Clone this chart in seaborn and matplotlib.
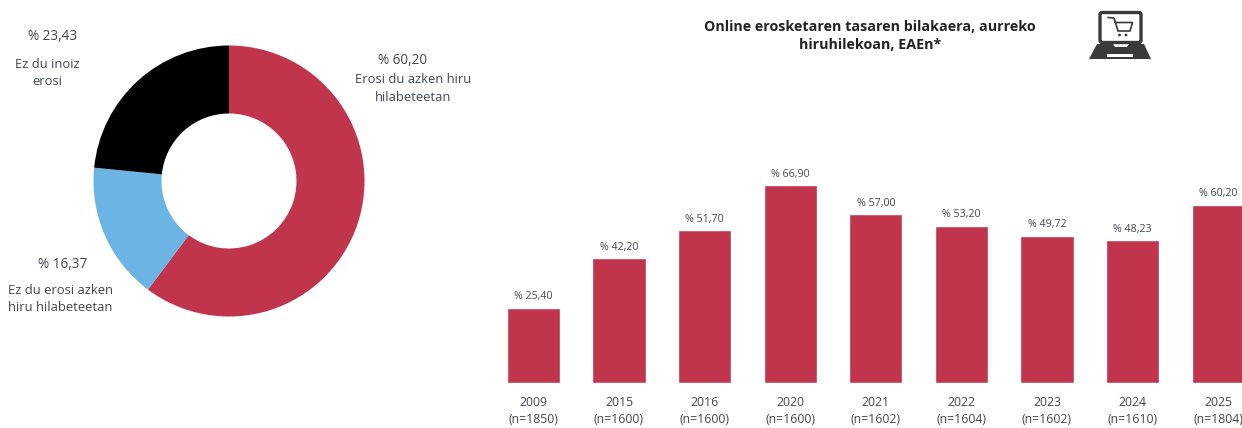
"""Online erosketak: donut and yearly bar chart."""

import matplotlib
matplotlib.use("Agg")
import matplotlib.pyplot as plt
import matplotlib.patches as mpatches
import pandas as pd
import seaborn as sns

# ---------- data ----------
donut_labels = ["Erosi du azken hiru\nhilabeteetan", "Ez du erosi azken\nhiru hilabeteetan", "Ez du inoiz\nerosi"]
donut_values = [60.20, 16.37, 23.43]

years = ["2009", "2015", "2016", "2020", "2021", "2022", "2023", "2024", "2025"]
sample_sizes = [1850, 1600, 1600, 1600, 1602, 1604, 1602, 1610, 1804]
rates = [25.40, 42.20, 51.70, 66.90, 57.00, 53.20, 49.72, 48.23, 60.20]

RED = "#C0354B"
BLUE = "#6CB4E4"
TEXT = "#404652"

W, H = 1242, 428


def pct(v):
    return "% " + f"{v:.2f}".replace(".", ",")


sns.set_theme(style="white")
plt.rcParams["font.family"] = ["Open Sans", "DejaVu Sans"]

fig = plt.figure(figsize=(W / 100, H / 100), dpi=100, facecolor="white")

# donut, y axis runs downwards here so the angles are flipped
ax_d = fig.add_axes([0, 0, 1, 1])
ax_d.pie(donut_values, colors=[RED, BLUE, "black"], startangle=-90, counterclock=True,
         center=(229, 181), radius=135.5, wedgeprops=dict(width=68, linewidth=0),
         frame=True)
ax_d.set_xlim(0, W)
ax_d.set_ylim(H, 0)
ax_d.axis("off")

donut_text = [(403, 60, 88.5), (63, 265, 299), (53, 37, 73)]
donut_label_x = [413, 60, 47]
for (x, y1, y2), x2, lab, v in zip(donut_text, donut_label_x, donut_labels, donut_values):
    fig.text(x / W, 1 - y1 / H, pct(v), ha="center", va="center", fontsize=9.8, color=TEXT)
    fig.text(x2 / W, 1 - y2 / H, lab, ha="center", va="center", fontsize=9.4, color=TEXT, linespacing=1.45)

# bars
df = pd.DataFrame({"year": years, "rate": rates})
ax = fig.add_axes([490.6 / W, 1 - 383 / H, 770.4 / W, 300 / H])
sns.barplot(data=df, x="year", y="rate", color=RED, saturation=1, width=0.62, ax=ax)
ax.set_xlim(-0.5, len(years) - 0.5)
ax.set_ylim(0, 300 / 2.957)
ax.set_xlabel("")
ax.set_ylabel("")
ax.set_yticks([])
ax.set_xticks(range(len(years)))
ax.set_xticklabels([f"{y}\n(n={n})" for y, n in zip(years, sample_sizes)],
                   fontsize=8.8, color=TEXT, linespacing=1.45)
ax.tick_params(axis="x", length=0, pad=9)
sns.despine(ax=ax, left=True, bottom=True)
ax.patch.set_alpha(0)
for c in ax.containers:
    ax.bar_label(c, labels=[pct(v) for v in rates], padding=4, fontsize=7.7, color=TEXT)

# title
fig.text(870 / W, 1 - 36 / H, "Online erosketaren tasaren bilakaera, aurreko\nhiruhilekoan, EAEn*",
         ha="center", va="center", fontsize=10.3, fontweight="bold", color="#222222", linespacing=1.35)

# laptop icon
ax_i = fig.add_axes([0, 0, 1, 1])
ax_i.set_xlim(0, W)
ax_i.set_ylim(H, 0)
ax_i.axis("off")
ax_i.patch.set_alpha(0)
ICON = "#3A3A3A"
ax_i.add_patch(mpatches.FancyBboxPatch((1100, 12.5), 41, 30, boxstyle="round,pad=0,rounding_size=2",
                                       fc="white", ec=ICON, lw=2.4))
ax_i.add_patch(mpatches.Polygon([(1097, 44), (1113, 44), (1115, 47), (1127, 47), (1129, 44), (1144, 44),
                                 (1151, 59), (1089, 59)], fc=ICON, ec="none"))
ax_i.add_patch(mpatches.Rectangle((1107, 54), 26, 2.5, fc="white", ec="none"))
ax_i.plot([1108, 1114, 1118, 1130, 1132.5, 1115], [17.5, 18, 31, 31, 22.5, 22.5], color=ICON, lw=1.2)
ax_i.add_patch(mpatches.Circle((1119.5, 35), 1.4, fc=ICON, ec="none"))
ax_i.add_patch(mpatches.Circle((1126, 35), 1.4, fc=ICON, ec="none"))

fig.savefig("out.png", dpi=100)
